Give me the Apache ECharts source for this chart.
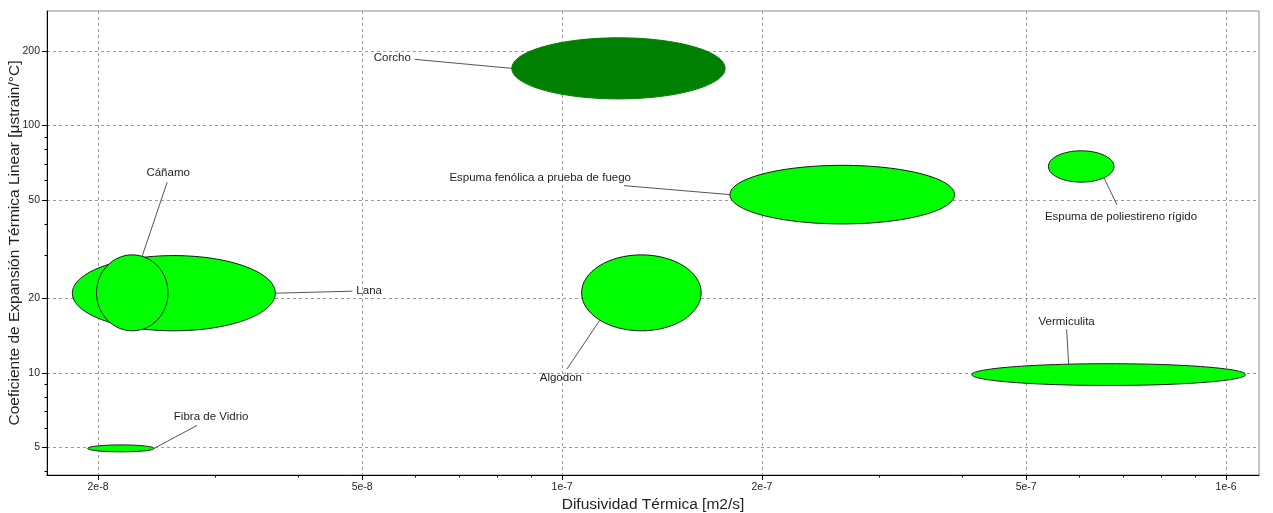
<!DOCTYPE html>
<html>
<head>
<meta charset="utf-8">
<script src="https://cdn.jsdelivr.net/npm/echarts@6/dist/echarts.min.js"></script>
<style>
  html, body { margin: 0; padding: 0; background: #fff; }
  #chart { width: 1273px; height: 513px; }
</style>
</head>
<body>
<div id="chart"></div>
<script>
// Materials, drawn in this order (later ones on top)
const materials = ['Lana', 'Cáñamo', 'Fibra de Vidrio', 'Corcho', 'Algodon',
  'Espuma fenólica a prueba de fuego', 'Espuma de poliestireno rígido', 'Vermiculita'];
// Thermal diffusivity range [m2/s]
const diffLow  = [1.83e-8, 1.99e-8, 1.93e-8, 8.4e-8, 1.07e-7, 1.79e-7, 5.4e-7, 4.14e-7];
const diffHigh = [3.7e-8, 2.55e-8, 2.43e-8, 1.76e-7, 1.62e-7, 3.9e-7, 6.78e-7, 1.07e-6];
// Linear thermal expansion range [µstrain/°C]
const expLow  = [14.8, 14.8, 4.8, 128, 14.8, 40, 59, 8.9];
const expHigh = [29.8, 30, 5.12, 226, 30, 69, 79, 10.9];

// Axis ticks
const xTicks = [2e-8, 5e-8, 1e-7, 2e-7, 5e-7, 1e-6];
const xMinorTicks = [3e-8, 4e-8, 6e-8, 7e-8, 8e-8, 9e-8, 3e-7, 4e-7, 6e-7, 7e-7, 8e-7, 9e-7];
const yTicks = [5, 10, 20, 50, 100, 200];
const yMinorTicks = [4, 6, 7, 8, 9, 30, 40, 60, 70, 80, 90];

// Axis extents
const xMin = 1.676e-8, xMax = 1.121e-6;
const yMin = 3.87, yMax = 290;

// Callout layout per material: anchor angle on the ellipse (deg, counter-clockwise),
// leader-line end offset from the anchor, and text offset from the line end (px)
const callouts = [
  { angle: 0,    end: [77, -2],   text: [4, 0],   align: 'left' },
  { angle: 74,   end: [25, -74],  text: [1, -10], align: 'center' },
  { angle: 0,    end: [43, -23],  text: [14, -9], align: 'center' },
  { angle: 180,  end: [-97, -9],  text: [-4, -2], align: 'right' },
  { angle: -134, end: [-33, 49],  text: [-6, 9],  align: 'center' },
  { angle: 180,  end: [-106, -9], text: [7, -8],  align: 'right' },
  { angle: -46,  end: [13, 27],   text: [4, 12],  align: 'center' },
  { angle: 107,  end: [-2, -35],  text: [0, -7],  align: 'center' }
];

const FONT = '"Liberation Sans", Arial, sans-serif';
const TEXT_COLOR = '#1e1e2a';

const chart = echarts.init(document.getElementById('chart'), null, { renderer: 'canvas' });

function renderBubble(params, api) {
  const i = params.dataIndex;
  const lo = api.coord([api.value(0), api.value(2)]);
  const hi = api.coord([api.value(1), api.value(3)]);
  const cx = (lo[0] + hi[0]) / 2;
  const cy = (lo[1] + hi[1]) / 2;
  const rx = Math.abs(hi[0] - lo[0]) / 2;
  const ry = Math.abs(hi[1] - lo[1]) / 2;
  const c = callouts[i];
  const a = c.angle * Math.PI / 180;
  const ax = cx + rx * Math.cos(a);
  const ay = cy - ry * Math.sin(a);
  const ex = ax + c.end[0];
  const ey = ay + c.end[1];
  const dark = materials[i] === 'Corcho';
  return {
    type: 'group',
    children: [
      {
        type: 'ellipse',
        shape: { cx: cx, cy: cy, rx: rx, ry: ry },
        style: {
          fill: dark ? '#008000' : '#00ff00',
          stroke: dark ? '#008000' : '#1a1a1a',
          lineWidth: 1
        }
      },
      {
        type: 'line',
        shape: { x1: ax, y1: ay, x2: ex, y2: ey },
        style: { stroke: '#555', lineWidth: 1 }
      },
      {
        type: 'text',
        style: {
          text: materials[i],
          x: ex + c.text[0],
          y: ey + c.text[1],
          align: c.align,
          verticalAlign: 'middle',
          font: '11.5px ' + FONT,
          fill: TEXT_COLOR
        }
      }
    ]
  };
}

const gridLine = { show: true, lineStyle: { color: '#9a9a9a', type: [3, 3], width: 1 } };

chart.setOption({
  animation: false,
  backgroundColor: '#fff',
  grid: {
    left: 47, right: 14, top: 11, bottom: 38,
    show: true, borderColor: '#8c8c8c', borderWidth: 1,
    containLabel: false, outerBoundsMode: 'none'
  },
  xAxis: [
    {
      type: 'log', logBase: 10, min: xMin, max: xMax, position: 'bottom',
      name: 'Difusividad Térmica [m2/s]', nameLocation: 'middle', nameGap: 22, nameMoveOverlap: false,
      nameTextStyle: { fontFamily: FONT, fontSize: 15.5, color: TEXT_COLOR },
      axisLine: { show: true, onZero: false, lineStyle: { color: '#000', width: 1 } },
      axisTick: { show: true, customValues: xTicks, length: 5, lineStyle: { color: '#000' } },
      axisLabel: {
        customValues: xTicks, margin: 7, fontFamily: FONT, fontSize: 10.5, color: TEXT_COLOR,
        formatter: v => Number(v).toExponential(0)
      },
      splitLine: gridLine
    },
    {
      type: 'log', logBase: 10, min: xMin, max: xMax, position: 'bottom',
      axisLine: { show: false },
      axisTick: { show: true, customValues: xMinorTicks, length: 2.5, lineStyle: { color: '#000' } },
      axisLabel: { show: false },
      splitLine: { show: false }
    }
  ],
  yAxis: [
    {
      type: 'log', logBase: 10, min: yMin, max: yMax, position: 'left',
      name: 'Coeficiente de Expansión Térmica Linear [μstrain/°C]', nameLocation: 'middle',
      nameGap: 24, nameMoveOverlap: false,
      nameTextStyle: { fontFamily: FONT, fontSize: 15.5, color: TEXT_COLOR },
      axisLine: { show: true, onZero: false, lineStyle: { color: '#000', width: 1 } },
      axisTick: { show: true, customValues: yTicks, length: 5, lineStyle: { color: '#000' } },
      axisLabel: {
        customValues: yTicks, margin: 7, fontFamily: FONT, fontSize: 10.5, color: TEXT_COLOR,
        formatter: v => String(Math.round(v))
      },
      splitLine: gridLine
    },
    {
      type: 'log', logBase: 10, min: yMin, max: yMax, position: 'left',
      axisLine: { show: false },
      axisTick: { show: true, customValues: yMinorTicks, length: 2.5, lineStyle: { color: '#000' } },
      axisLabel: { show: false },
      splitLine: { show: false }
    }
  ],
  series: [{
    type: 'custom',
    coordinateSystem: 'cartesian2d',
    xAxisIndex: 0,
    yAxisIndex: 0,
    silent: true,
    clip: false,
    encode: { x: [0, 1], y: [2, 3] },
    data: materials.map((m, i) => ({ name: m, value: [diffLow[i], diffHigh[i], expLow[i], expHigh[i]] })),
    renderItem: renderBubble
  }]
});
</script>
</body>
</html>
